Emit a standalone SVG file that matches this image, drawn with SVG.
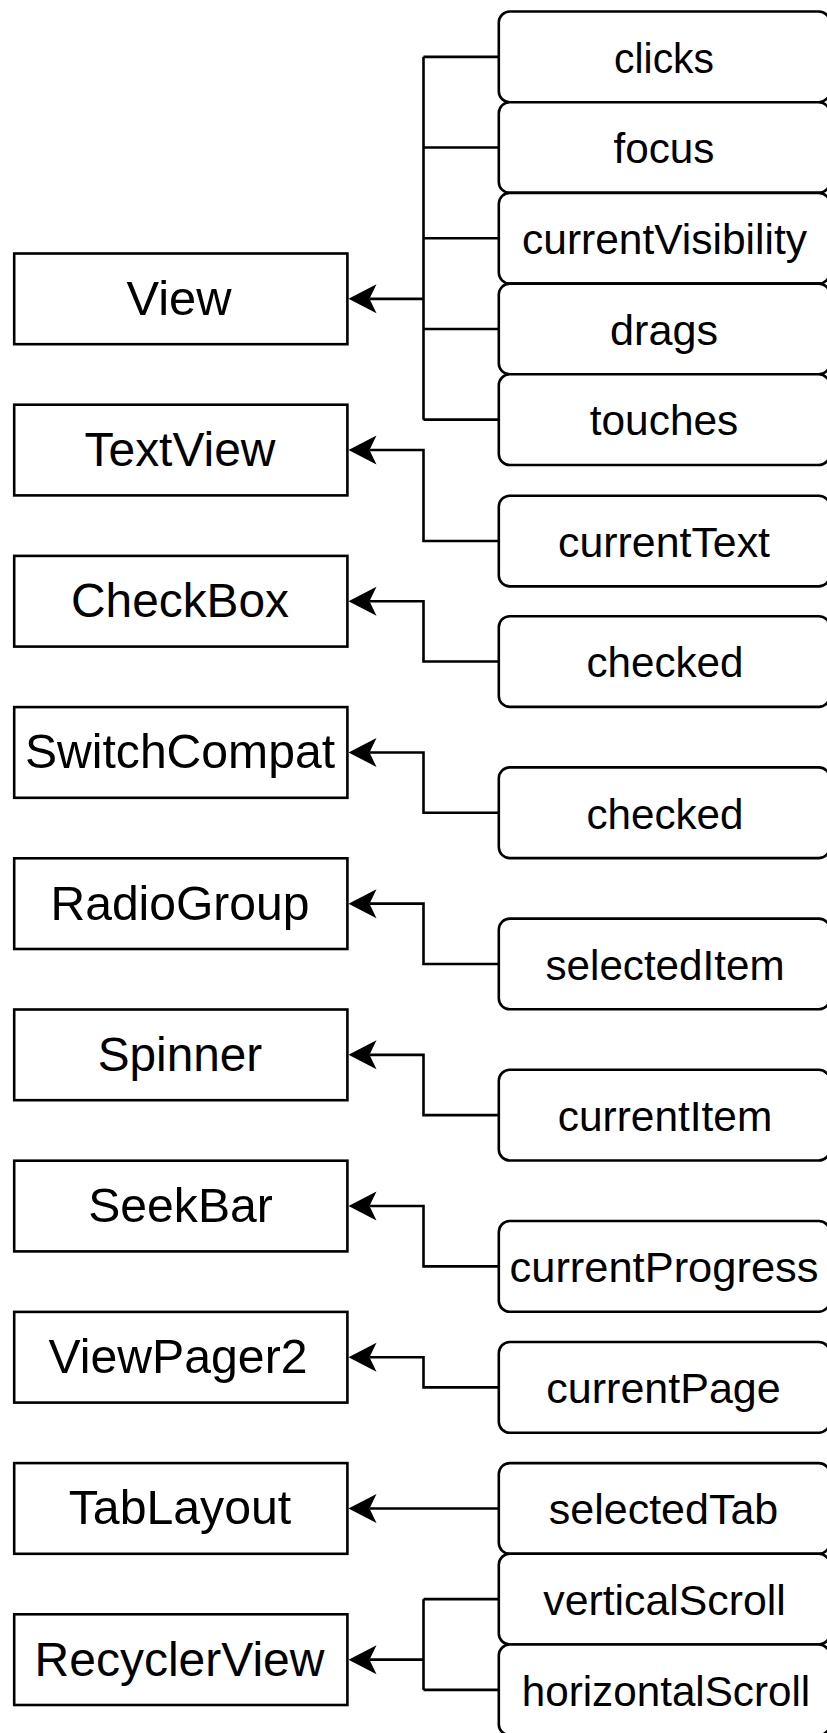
<svg xmlns="http://www.w3.org/2000/svg" width="827" height="1733" viewBox="0 0 827 1733">
  <style>
    .widget rect { fill: #ffffff; stroke: #000000; stroke-width: 2.6; }
    .prop rect { fill: #ffffff; stroke: #000000; stroke-width: 2.6; }
    .widget text { font-family: "Liberation Sans", Arial, sans-serif; font-size: 48px; fill: #000000; text-anchor: middle; }
    .prop text { font-family: "Liberation Sans", Arial, sans-serif; font-size: 42px; fill: #000000; text-anchor: middle; }
    #connectors path { fill: none; stroke: #000000; stroke-width: 2.6; }
    #connectors path.arrow { marker-end: url(#head); }
  </style>
  <defs>
    <!-- classic open-notch arrowhead; the line ends at the notch -->
    <marker id="head" markerUnits="userSpaceOnUse" orient="auto" refX="0" refY="0" markerWidth="40" markerHeight="40" overflow="visible">
      <path d="M 21 0 L -7 -14.5 L 0 0 L -7 14.5 Z" fill="#000000" stroke="none"/>
    </marker>
  </defs>
  <rect x="0" y="0" width="827" height="1733" fill="#ffffff"/>

  <!-- connectors: property -> widget -->
  <g id="connectors">
    <!-- View -->
    <path d="M 423.5 56.85 V 419.65"/>
    <path d="M 498.8 56.85 H 423.5"/>
    <path d="M 498.8 147.55 H 423.5"/>
    <path d="M 498.8 238.25 H 423.5"/>
    <path d="M 498.8 328.95 H 423.5"/>
    <path d="M 498.8 419.65 H 423.5"/>
    <path class="arrow" d="M 423.5 298.85 H 369.5"/>
    <!-- TextView -->
    <path class="arrow" d="M 498.8 541.05 H 423.5 V 450.05 H 369.5"/>
    <!-- CheckBox -->
    <path class="arrow" d="M 498.8 661.55 H 423.5 V 601.25 H 369.5"/>
    <!-- SwitchCompat -->
    <path class="arrow" d="M 498.8 812.75 H 423.5 V 752.45 H 369.5"/>
    <!-- RadioGroup -->
    <path class="arrow" d="M 498.8 963.95 H 423.5 V 903.65 H 369.5"/>
    <!-- Spinner -->
    <path class="arrow" d="M 498.8 1115.15 H 423.5 V 1054.85 H 369.5"/>
    <!-- SeekBar -->
    <path class="arrow" d="M 498.8 1266.35 H 423.5 V 1206.05 H 369.5"/>
    <!-- ViewPager2 -->
    <path class="arrow" d="M 498.8 1387.35 H 423.5 V 1357.25 H 369.5"/>
    <!-- TabLayout -->
    <path class="arrow" d="M 498.8 1508.45 H 369.5"/>
    <!-- RecyclerView -->
    <path d="M 423.5 1599.15 V 1689.85"/>
    <path d="M 498.8 1599.15 H 423.5"/>
    <path d="M 498.8 1689.85 H 423.5"/>
    <path class="arrow" d="M 423.5 1659.65 H 369.5"/>
  </g>

  <!-- widgets -->
  <g id="view" class="widget"><rect x="14.2" y="253.5" width="333.2" height="90.7"/><text x="179" y="314.5" textLength="105" lengthAdjust="spacingAndGlyphs">View</text></g>
  <g id="textview" class="widget"><rect x="14.2" y="404.7" width="333.2" height="90.7"/><text x="180" y="466" textLength="191" lengthAdjust="spacingAndGlyphs">TextView</text></g>
  <g id="checkbox" class="widget"><rect x="14.2" y="555.9" width="333.2" height="90.7"/><text x="180" y="617.2" textLength="218" lengthAdjust="spacingAndGlyphs">CheckBox</text></g>
  <g id="switchcompat" class="widget"><rect x="14.2" y="707.1" width="333.2" height="90.7"/><text x="180" y="768.4" textLength="310" lengthAdjust="spacingAndGlyphs">SwitchCompat</text></g>
  <g id="radiogroup" class="widget"><rect x="14.2" y="858.3" width="333.2" height="90.7"/><text x="180" y="919.6" textLength="259" lengthAdjust="spacingAndGlyphs">RadioGroup</text></g>
  <g id="spinner" class="widget"><rect x="14.2" y="1009.5" width="333.2" height="90.7"/><text x="180" y="1070.8" textLength="164.5" lengthAdjust="spacingAndGlyphs">Spinner</text></g>
  <g id="seekbar" class="widget"><rect x="14.2" y="1160.7" width="333.2" height="90.7"/><text x="180.5" y="1222" textLength="184.5" lengthAdjust="spacingAndGlyphs">SeekBar</text></g>
  <g id="viewpager2" class="widget"><rect x="14.2" y="1311.9" width="333.2" height="90.7"/><text x="178" y="1373.2" textLength="259" lengthAdjust="spacingAndGlyphs">ViewPager2</text></g>
  <g id="tablayout" class="widget"><rect x="14.2" y="1463.1" width="333.2" height="90.7"/><text x="180" y="1524.4" textLength="222.5" lengthAdjust="spacingAndGlyphs">TabLayout</text></g>
  <g id="recyclerview" class="widget"><rect x="14.2" y="1614.3" width="333.2" height="90.7"/><text x="179.5" y="1675.6" textLength="290" lengthAdjust="spacingAndGlyphs">RecyclerView</text></g>

  <!-- properties -->
  <g id="clicks" class="prop"><rect x="498.8" y="11.5" width="331" height="90.7" rx="11"/><text x="664" y="72.6" textLength="100" lengthAdjust="spacingAndGlyphs">clicks</text></g>
  <g id="focus" class="prop"><rect x="498.8" y="102.2" width="331" height="90.7" rx="11"/><text x="664" y="163.3" textLength="101" lengthAdjust="spacingAndGlyphs">focus</text></g>
  <g id="currentvisibility" class="prop"><rect x="498.8" y="192.9" width="331" height="90.7" rx="11"/><text x="664.5" y="254" textLength="285" lengthAdjust="spacingAndGlyphs">currentVisibility</text></g>
  <g id="drags" class="prop"><rect x="498.8" y="283.6" width="331" height="90.7" rx="11"/><text x="664" y="344.7" textLength="108" lengthAdjust="spacingAndGlyphs">drags</text></g>
  <g id="touches" class="prop"><rect x="498.8" y="374.3" width="331" height="90.7" rx="11"/><text x="664" y="435.4" textLength="148.5" lengthAdjust="spacingAndGlyphs">touches</text></g>
  <g id="currenttext" class="prop"><rect x="498.8" y="495.7" width="331" height="90.7" rx="11"/><text x="664" y="556.8" textLength="212" lengthAdjust="spacingAndGlyphs">currentText</text></g>
  <g id="checked-checkbox" class="prop"><rect x="498.8" y="616.2" width="331" height="90.7" rx="11"/><text x="665" y="677.3" textLength="157" lengthAdjust="spacingAndGlyphs">checked</text></g>
  <g id="checked-switch" class="prop"><rect x="498.8" y="767.4" width="331" height="90.7" rx="11"/><text x="665" y="828.5" textLength="157" lengthAdjust="spacingAndGlyphs">checked</text></g>
  <g id="selecteditem" class="prop"><rect x="498.8" y="918.6" width="331" height="90.7" rx="11"/><text x="665" y="979.7" textLength="239" lengthAdjust="spacingAndGlyphs">selectedItem</text></g>
  <g id="currentitem" class="prop"><rect x="498.8" y="1069.8" width="331" height="90.7" rx="11"/><text x="665" y="1130.9" textLength="214.5" lengthAdjust="spacingAndGlyphs">currentItem</text></g>
  <g id="currentprogress" class="prop"><rect x="498.8" y="1221" width="331" height="90.7" rx="11"/><text x="664" y="1282.1" textLength="309" lengthAdjust="spacingAndGlyphs">currentProgress</text></g>
  <g id="currentpage" class="prop"><rect x="498.8" y="1342" width="331" height="90.7" rx="11"/><text x="663.5" y="1403.1" textLength="234.5" lengthAdjust="spacingAndGlyphs">currentPage</text></g>
  <g id="selectedtab" class="prop"><rect x="498.8" y="1463.1" width="331" height="90.7" rx="11"/><text x="663.5" y="1524.2" textLength="229.5" lengthAdjust="spacingAndGlyphs">selectedTab</text></g>
  <g id="verticalscroll" class="prop"><rect x="498.8" y="1553.8" width="331" height="90.7" rx="11"/><text x="664.5" y="1614.9" textLength="242.5" lengthAdjust="spacingAndGlyphs">verticalScroll</text></g>
  <g id="horizontalscroll" class="prop"><rect x="498.8" y="1644.5" width="331" height="90.7" rx="11"/><text x="666" y="1705.6" textLength="288.5" lengthAdjust="spacingAndGlyphs">horizontalScroll</text></g>
</svg>
